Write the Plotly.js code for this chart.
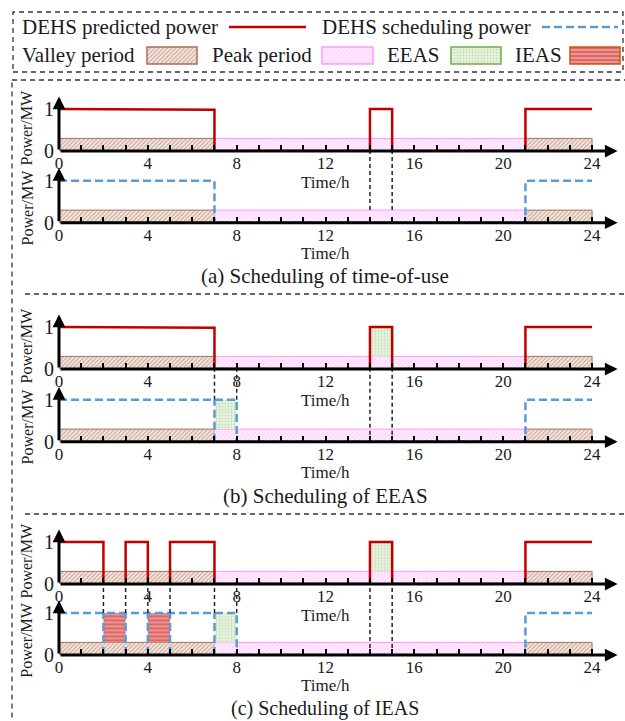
<!DOCTYPE html>
<html><head><meta charset="utf-8">
<script src="https://cdn.plot.ly/plotly-3.0.1.min.js"></script>
<style>html,body{margin:0;padding:0;background:#fff}#chart{width:625px;height:721px}</style>
</head><body><div id="chart"></div>
<script>
// ---------------- data ----------------
const valleyStart = [0, 21];
const valleyEnd = [7, 24];
const peakStart = [7];
const peakEnd = [21];
const touLevel = 0.3;

const xTickVals = [0, 4, 8, 12, 16, 20, 24];
const xTickText = ['0', '4', '8', '12', '16', '20', '24'];
const yTickVals = [0, 1];
const yTickText = ['0', '1'];

// (a) time-of-use
const predTimeA = [0, 7, 7, 14, 14, 15, 15, 21, 21, 24];
const predPowerA = [1, 0.98, 0, 0, 1, 1, 0, 0, 1, 1];
const schedTimeA = [0, 7, 7, 21, 21, 24];
const schedPowerA = [1, 1, 0, 0, 1, 1];
const guideTimesA = [14, 15];

// (b) EEAS
const predTimeB = [0, 7, 7, 14, 14, 15, 15, 21, 21, 24];
const predPowerB = [1, 0.98, 0, 0, 1, 1, 0, 0, 1, 1];
const schedTimeB = [0, 8, 8, 21, 21, 24];
const schedPowerB = [1, 1, 0, 0, 1, 1];
const eeasTopStartB = [14], eeasTopEndB = [15];
const eeasBotStartB = [7], eeasBotEndB = [8];
const guideTimesB = [7, 8, 14, 15];

// (c) IEAS
const predTimeC = [0, 2, 2, 3, 3, 4, 4, 5, 5, 7, 7, 14, 14, 15, 15, 21, 21, 24];
const predPowerC = [1, 1, 0, 0, 1, 1, 0, 0, 1, 1, 0, 0, 1, 1, 0, 0, 1, 1];
const schedTimeC = [0, 8, 8, 21, 21, 24];
const schedPowerC = [1, 1, 0, 0, 1, 1];
const eeasTopStartC = [14], eeasTopEndC = [15];
const eeasBotStartC = [7], eeasBotEndC = [8];
const ieasBotStartC = [2, 4], ieasBotEndC = [3, 5];
const guideTimesC = [2, 3, 4, 5, 7, 8, 14, 15];

const captions = ['(a) Scheduling of time-of-use', '(b) Scheduling of EEAS', '(c) Scheduling of IEAS'];
const legendNames = ['DEHS predicted power', 'DEHS scheduling power', 'Valley period', 'Peak period', 'EEAS', 'IEAS'];

// ---------------- styling / layout ----------------
const W = 625, H = 721;
const FONT = '"Liberation Serif", "Times New Roman", Times, serif';
const INK = '#1a1a1a';
const RED = '#C00000', BLUE = '#5B9BD5';
const STY = {
  valley: {line: '#A8705A', pattern: {shape: '/', fgcolor: '#C29A88', bgcolor: '#F3E7E1', size: 3, solidity: 0.3}},
  peak:   {line: '#FF99FF', pattern: {shape: '/', fgcolor: '#FFC6FF', bgcolor: '#FFF0FF', size: 3, solidity: 0.3}},
  eeas:   {line: '#70AD47', pattern: {shape: '.', fgcolor: '#C2DDB0', bgcolor: '#EAF4E4', size: 3, solidity: 0.3}},
  ieas:   {line: '#C55A11', pattern: {shape: '-', fgcolor: '#F3B4B4', bgcolor: '#DD6666', size: 4, solidity: 0.3}}
};
const X_RANGE = [0, 25.15], Y_RANGE = [0, 1.3];
const xDom = [59 / W, 617.6 / W];
const zeroPx = [151, 222.7, 369, 441.7, 584, 655];
const plotH = 54.6;
const yDom = i => [1 - zeroPx[i] / H, 1 - (zeroPx[i] - plotH) / H];
const paperY = (i, v) => { const d = yDom(i); return d[0] + (v - Y_RANGE[0]) / (Y_RANGE[1] - Y_RANGE[0]) * (d[1] - d[0]); };
const ax = i => (i === 0 ? '' : String(i + 1));

const panels = [
  {pt: predTimeA, pp: predPowerA, st: schedTimeA, sp: schedPowerA, topE: [[], []], botE: [[], []], botI: [[], []], guides: guideTimesA, guideFloor: touLevel},
  {pt: predTimeB, pp: predPowerB, st: schedTimeB, sp: schedPowerB, topE: [eeasTopStartB, eeasTopEndB], botE: [eeasBotStartB, eeasBotEndB], botI: [[], []], guides: guideTimesB, guideFloor: 0},
  {pt: predTimeC, pp: predPowerC, st: schedTimeC, sp: schedPowerC, topE: [eeasTopStartC, eeasTopEndC], botE: [eeasBotStartC, eeasBotEndC], botI: [ieasBotStartC, ieasBotEndC], guides: guideTimesC, guideFloor: 0}
];

function band(starts, ends, base, top, style, xa, ya, lw) {
  return {
    type: 'bar', xaxis: xa, yaxis: ya,
    x: starts.map((s, i) => (s + ends[i]) / 2),
    width: starts.map((s, i) => ends[i] - s),
    base: starts.map(() => base),
    y: starts.map(() => top - base),
    marker: {color: style.pattern.bgcolor, pattern: style.pattern, line: {color: style.line, width: lw}},
    hoverinfo: 'skip', showlegend: false
  };
}

const traces = [];
const layout = {
  width: W, height: H, margin: {l: 0, r: 0, t: 0, b: 0},
  paper_bgcolor: '#fff', plot_bgcolor: 'rgba(0,0,0,0)',
  barmode: 'overlay', showlegend: false,
  font: {family: FONT, color: INK},
  annotations: [], shapes: []
};
const minorVals = [];
for (let h = 1; h < 24; h++) if (h % 4 !== 0) minorVals.push(h);

for (let i = 0; i < 6; i++) {
  const s = ax(i);
  layout['xaxis' + s] = {
    domain: xDom, range: X_RANGE, anchor: 'y' + s, fixedrange: true,
    showline: false, showgrid: false, zeroline: false,
    tickmode: 'array', tickvals: xTickVals, ticktext: xTickText,
    ticks: 'inside', ticklen: 6, tickwidth: 2, tickcolor: '#000',
    minor: {tickmode: 'array', tickvals: minorVals, ticks: 'inside', ticklen: 6, tickwidth: 2, tickcolor: '#000', showgrid: false},
    tickfont: {family: FONT, size: 17, color: INK}
  };
  layout['yaxis' + s] = {
    domain: yDom(i), range: Y_RANGE, anchor: 'x' + s, fixedrange: true,
    showline: false, showgrid: false, zeroline: false,
    tickmode: 'array', tickvals: yTickVals, ticktext: yTickText, ticks: '',
    ticklabelstandoff: 4,
    tickfont: {family: FONT, size: 20, color: INK}
  };
  // axis arrows
  const xa = 'x' + s, ya = 'y' + s;
  layout.annotations.push({xref: xa, yref: ya, x: X_RANGE[1], y: 0, axref: xa, ayref: ya, ax: 0, ay: 0,
    text: '', showarrow: true, arrowhead: 2, arrowsize: 0.85, arrowwidth: 3, arrowcolor: '#000'});
  layout.annotations.push({xref: xa, yref: ya, x: 0, y: Y_RANGE[1], axref: xa, ayref: ya, ax: 0, ay: 0,
    text: '', showarrow: true, arrowhead: 2, arrowsize: 0.85, arrowwidth: 3, arrowcolor: '#000'});
  // axis titles
  layout.annotations.push({xref: xa, yref: ya + ' domain', x: 12, y: 0, yshift: i === 5 ? -30 : -31, yanchor: 'middle',
    text: 'Time/h', showarrow: false, font: {family: FONT, size: 17, color: INK}});
  layout.annotations.push({xref: 'paper', yref: ya + ' domain', x: 27 / W, y: i % 2 === 0 ? 0.43 : 0.28,
    xanchor: 'center', yanchor: 'middle', textangle: -90,
    text: 'Power/MW', showarrow: false, font: {family: FONT, size: 16, color: INK}});
}

panels.forEach((p, k) => {
  const top = 2 * k, bot = 2 * k + 1;
  const xt = 'x' + ax(top), yt = 'y' + ax(top), xb = 'x' + ax(bot), yb = 'y' + ax(bot);
  [[xt, yt], [xb, yb]].forEach(([xa, ya]) => {
    traces.push(band(valleyStart, valleyEnd, 0, touLevel, STY.valley, xa, ya, 1));
    traces.push(band(peakStart, peakEnd, 0, touLevel, STY.peak, xa, ya, 1));
  });
  if (p.topE[0].length) traces.push(band(p.topE[0], p.topE[1], touLevel, 1, STY.eeas, xt, yt, 0));
  if (p.botE[0].length) traces.push(band(p.botE[0], p.botE[1], touLevel, 1, STY.eeas, xb, yb, 0));
  if (p.botI[0].length) traces.push(band(p.botI[0], p.botI[1], touLevel, 1, STY.ieas, xb, yb, 0));

  traces.push({type: 'scatter', mode: 'lines', xaxis: xt, yaxis: yt, x: p.pt, y: p.pp,
    line: {color: RED, width: 2.5}, hoverinfo: 'skip', showlegend: false});
  traces.push({type: 'scatter', mode: 'lines', xaxis: xb, yaxis: yb, x: p.st, y: p.sp,
    line: {color: BLUE, width: 2.5, dash: '8px,4px'}, hoverinfo: 'skip', showlegend: false});

  // blue window edges in the scheduling plot
  const edges = [...p.botE[0], ...p.botE[1], ...p.botI[0], ...p.botI[1]].filter(t => !p.st.includes(t));
  if (edges.length) {
    const ex = [], ey = [];
    edges.forEach(t => { ex.push(t, t, null); ey.push(0, 1, null); });
    traces.push({type: 'scatter', mode: 'lines', xaxis: xb, yaxis: yb, x: ex, y: ey,
      line: {color: BLUE, width: 2.5, dash: '8px,4px'}, hoverinfo: 'skip', showlegend: false, connectgaps: false});
  }
  // black guides between the two plots
  const winEdges = [...p.botE[0], ...p.botE[1], ...p.botI[0], ...p.botI[1]];
  p.guides.forEach(t => {
    const endV = winEdges.includes(t) ? 1 : p.guideFloor;
    layout.shapes.push({type: 'line', xref: xt, yref: 'paper', x0: t, x1: t,
      y0: paperY(bot, endV), y1: paperY(top, 0), layer: 'above',
      line: {color: '#222', width: 1.5, dash: '4px,3px'}});
  });
});

// captions
const capY = [276, 496];
captions.forEach((c, k) => layout.annotations.push(k < 2
  ? {xref: 'paper', yref: 'paper', x: 325 / W, y: 1 - capY[k] / H, xanchor: 'center', yanchor: 'middle',
     text: c, showarrow: false, font: {family: FONT, size: 21, color: INK}}
  : {xref: 'paper', yref: 'paper', x: 325 / W, y: 0, xanchor: 'center', yanchor: 'bottom', borderpad: 0,
     text: c, showarrow: false, font: {family: FONT, size: 20, color: INK}}));

// dashed frames
const frame = {color: '#333', width: 1.3, dash: '5px,4px'};
layout.shapes.push({type: 'rect', xref: 'paper', yref: 'paper', x0: 13 / W, x1: 623 / W, y0: 1 - 72 / H, y1: 1 - 12 / H, line: frame, fillcolor: 'rgba(0,0,0,0)'});
layout.shapes.push({type: 'line', xref: 'paper', yref: 'paper', x0: 12 / W, x1: 12 / W, y0: -0.02, y1: 1 - 80 / H, line: frame});
layout.shapes.push({type: 'line', xref: 'paper', yref: 'paper', x0: 12 / W, x1: 1.02, y0: 1 - 80 / H, y1: 1 - 80 / H, line: frame});
[294, 514].forEach(py => layout.shapes.push({type: 'line', xref: 'paper', yref: 'paper', x0: 25 / W, x1: 1.02, y0: 1 - py / H, y1: 1 - py / H, line: frame}));

// custom legend (text followed by its key), pixel-unit helper axes
layout.xaxis7 = {domain: [0, 1], range: [0, W], visible: false, fixedrange: true, anchor: 'y7'};
layout.yaxis7 = {domain: [1 - 72 / H, 1 - 12 / H], range: [72, 12], visible: false, fixedrange: true, anchor: 'x7'};
const legText = [[20, 27], [320, 27], [20, 55], [210, 55], [385, 55], [513, 55]];
legendNames.forEach((n, i) => layout.annotations.push({xref: 'paper', yref: 'paper', x: legText[i][0] / W, y: 1 - legText[i][1] / H,
  xanchor: 'left', yanchor: 'middle', text: n, showarrow: false, font: {family: FONT, size: 21, color: INK}}));
traces.push({type: 'scatter', mode: 'lines', xaxis: 'x7', yaxis: 'y7', x: [229, 306], y: [27, 27], line: {color: RED, width: 2.5}, hoverinfo: 'skip', showlegend: false});
traces.push({type: 'scatter', mode: 'lines', xaxis: 'x7', yaxis: 'y7', x: [542, 618], y: [27, 27], line: {color: BLUE, width: 2.5, dash: '8px,4px'}, hoverinfo: 'skip', showlegend: false});
const keyBox = [[147, 197, STY.valley], [322, 373, STY.peak], [451, 501, STY.eeas], [570, 620, STY.ieas]];
keyBox.forEach(([a, b, st]) => traces.push(band([a], [b], 47, 64, st, 'x7', 'y7', 1.5)));

Plotly.newPlot('chart', traces, layout, {displayModeBar: false, staticPlot: true});
</script>
</body></html>
